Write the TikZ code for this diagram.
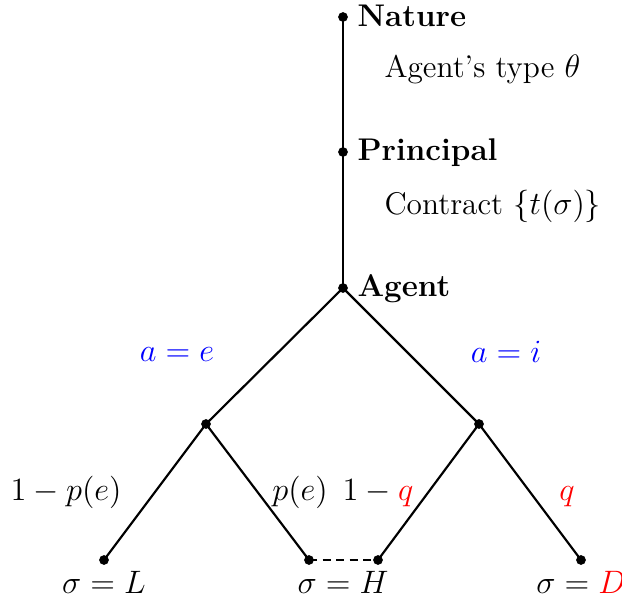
\documentclass[tikz,border=0pt]{standalone}
\usepackage{fontspec}
\begin{document}
\begin{tikzpicture}[x=0.37pt,y=-0.37pt,
  every node/.append style={font=\fontsize{11.6}{14}\selectfont},
  dot/.style={circle,fill=black,inner sep=0pt,minimum size=3.6pt},
  edge/.style={line width=0.8pt},
  lbl/.style={inner sep=0pt,anchor=base},
  lblw/.style={inner sep=0pt,anchor=base west}]
\useasboundingbox (0,0) rectangle (622,605);
% decision nodes
\node[dot] (nat) at (343,17) {};
\node[dot] (pri) at (343,152) {};
\node[dot] (agt) at (343,288) {};
\node[dot] (le) at (206,424) {};
\node[dot] (ri) at (479,424) {};
\node[dot] (l1) at (104,560) {};
\node[dot] (l2) at (309,560) {};
\node[dot] (l3) at (378,560) {};
\node[dot] (l4) at (581,560) {};
% connectors
\draw[edge] (nat.center) -- (pri.center) -- (agt.center);
\draw[edge] (agt.center) -- (le.center);
\draw[edge] (agt.center) -- (ri.center);
\draw[edge] (le.center) -- (l1.center);
\draw[edge] (le.center) -- (l2.center);
\draw[edge] (ri.center) -- (l3.center);
\draw[edge] (ri.center) -- (l4.center);
\draw[edge,dash pattern=on 3pt off 2pt] (l2.center) -- (l3.center);
% labels
\node[lblw] (tnat) at (357,27) {\textbf{Nature}};
\node[lblw] (ttype) at (384,78) {Agent’s type $\theta$};
\node[lblw] (tpri) at (357,161) {\textbf{Principal}};
\node[lblw] (tcon) at (384,215) {Contract $\{t(\sigma)\}$};
\node[lblw] (tagt) at (357,297) {\textbf{Agent}};
\node[lbl,text=blue] (ae) at (177,362) {$a=e$};
\node[lbl,text=blue] (ai) at (506,363) {$a=i$};
\node[lbl] (pl) at (66,501) {$1-p(e)$};
\node[lbl] (pr) at (300,501) {$p(e)$};
\node[lbl] (ql) at (378,501) {$1-\textcolor{red}{q}$};
\node[lbl,text=red] (qr) at (567,501) {$q$};
\node[lbl] (sl) at (104,594) {$\sigma=L$};
\node[lbl] (sh) at (343,594) {$\sigma=H$};
\node[lbl] (sd) at (581,594) {$\sigma=\textcolor{red}{D}$};
\end{tikzpicture}
\end{document}
